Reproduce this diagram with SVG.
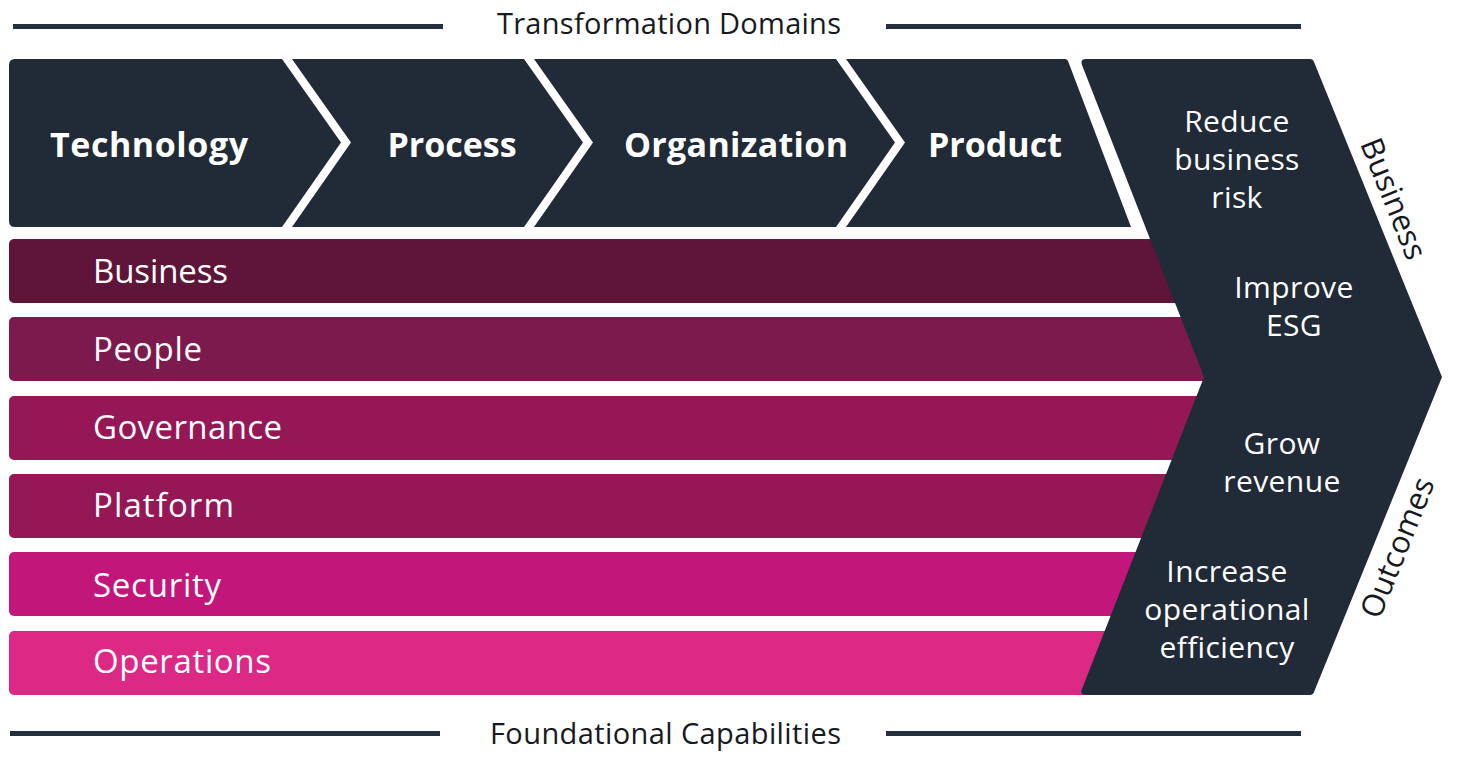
<svg xmlns="http://www.w3.org/2000/svg" width="1460" height="762" viewBox="0 0 1460 762">
  <style>
    .dk { fill: #212a37; }
    .rule { fill: #232f3e; }
    .ttl { font-family: "Open Sans", "Noto Sans", sans-serif; font-size: 29px; fill: #16191f; text-anchor: middle; }
    .dom { font-family: "Open Sans", "Noto Sans", sans-serif; font-size: 34px; font-weight: 700; fill: #ffffff; text-anchor: middle; }
    .cap { font-family: "Open Sans", "Noto Sans", sans-serif; font-size: 33px; fill: #ffffff; }
    .out { font-family: "Open Sans", "Noto Sans", sans-serif; font-size: 30px; letter-spacing: 0.4px; fill: #ffffff; text-anchor: middle; }
    .side { font-family: "Open Sans", "Noto Sans", sans-serif; font-size: 31px; fill: #16191f; text-anchor: middle; }
  </style>

  <g id="titles">
    <rect class="rule" x="13" y="24" width="430" height="5"/>
    <rect class="rule" x="886" y="24" width="415" height="5"/>
    <text class="ttl" x="669" y="34" textLength="344" lengthAdjust="spacing">Transformation Domains</text>
    <rect class="rule" x="10" y="731" width="430" height="5"/>
    <rect class="rule" x="886" y="731" width="415" height="5"/>
    <text class="ttl" x="665.5" y="744" textLength="351" lengthAdjust="spacing">Foundational Capabilities</text>
  </g>

  <g id="domain-technology">
    <path class="dk" d="M15,59 H282 L341,142.5 L282,227 H15 Q9,227 9,221 V65 Q9,59 15,59 Z"/>
    <text class="dom" x="149" y="157" textLength="198" lengthAdjust="spacing">Technology</text>
  </g>
  <g id="domain-process">
    <path class="dk" d="M292,59 H524 L583,142.5 L524,227 H292 L351,142.5 Z"/>
    <text class="dom" x="452" y="157">Process</text>
  </g>
  <g id="domain-organization">
    <path class="dk" d="M534,59 H836 L895,142.5 L836,227 H534 L593,142.5 Z"/>
    <text class="dom" x="736" y="157" textLength="224" lengthAdjust="spacing">Organization</text>
  </g>
  <g id="domain-product">
    <path class="dk" d="M846,59 H1065 Q1067,59 1068,61 L1131,227 H846 L905,142.5 Z"/>
    <text class="dom" x="995" y="157">Product</text>
  </g>

  <g id="cap-business">
    <rect x="9" y="239" width="1250" height="64" rx="5" fill="#5e1539"/>
    <text class="cap" x="93" y="283" textLength="135" lengthAdjust="spacing">Business</text>
  </g>
  <g id="cap-people">
    <rect x="9" y="317" width="1250" height="64" rx="5" fill="#7c1a4e"/>
    <text class="cap" x="93" y="361" textLength="109" lengthAdjust="spacing">People</text>
  </g>
  <g id="cap-governance">
    <rect x="9" y="396" width="1250" height="64" rx="5" fill="#961755"/>
    <text class="cap" x="93" y="439" textLength="189" lengthAdjust="spacing">Governance</text>
  </g>
  <g id="cap-platform">
    <rect x="9" y="474" width="1250" height="64" rx="5" fill="#961755"/>
    <text class="cap" x="93" y="517" textLength="141" lengthAdjust="spacing">Platform</text>
  </g>
  <g id="cap-security">
    <rect x="9" y="552" width="1250" height="64" rx="5" fill="#c3167b"/>
    <text class="cap" x="93" y="597" textLength="128" lengthAdjust="spacing">Security</text>
  </g>
  <g id="cap-operations">
    <rect x="9" y="631" width="1250" height="64" rx="5" fill="#db2985"/>
    <text class="cap" x="93" y="673" textLength="178" lengthAdjust="spacing">Operations</text>
  </g>

  <g id="outcomes">
    <path class="dk" d="M1086,59 H1310 Q1313,59 1314,62 L1442,377 L1314,692 Q1313,695 1310,695 H1086 Q1079,695 1082,689 L1204,377 L1082,65 Q1080,59 1086,59 Z"/>
    <text class="out" x="1237" y="132">Reduce</text>
    <text class="out" x="1237" y="170">business</text>
    <text class="out" x="1237" y="208">risk</text>
    <text class="out" x="1294" y="298">Improve</text>
    <text class="out" x="1294" y="336">ESG</text>
    <text class="out" x="1282" y="454">Grow</text>
    <text class="out" x="1282" y="492">revenue</text>
    <text class="out" x="1227" y="582">Increase</text>
    <text class="out" x="1227" y="620">operational</text>
    <text class="out" x="1227" y="658">efficiency</text>
    <text class="side" transform="translate(1393,199) rotate(68)" x="0" y="10">Business</text>
    <text class="side" transform="translate(1398,548) rotate(-68)" x="0" y="10">Outcomes</text>
  </g>

  <g id="connectors"></g>
</svg>
